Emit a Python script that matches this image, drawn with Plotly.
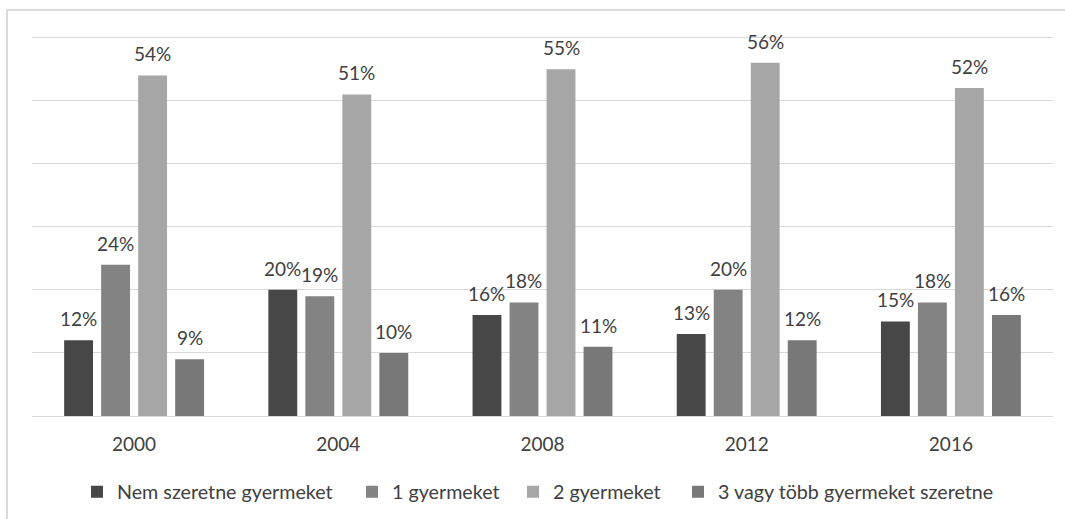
import plotly.graph_objects as go

years = ["2000", "2004", "2008", "2012", "2016"]
series_names = ["Nem szeretne gyermeket", "1 gyermeket", "2 gyermeket", "3 vagy több gyermeket szeretne"]
nem = [12, 20, 16, 13, 15]
egy = [24, 19, 18, 20, 18]
ketto = [54, 51, 55, 56, 52]
harom = [9, 10, 11, 12, 16]
colors = ["#474747", "#838383", "#a6a6a6", "#787878"]

W, H = 1065, 519
ML, MR, MT, MB = 32, 12, 31, 103
plot_w = W - ML - MR
plot_h = H - MT - MB
bargap = 0.275
n_series = 4
slot_px = plot_w / len(years) * (1 - bargap) / n_series

legend_ids = ["legend", "legend2", "legend3", "legend4"]
legend_left_px = [77, 352, 513, 678]
text_color = "#404040"
FONT = "Lato"

fig = go.Figure()
annotations = []
for i, (name, vals, col) in enumerate(zip(series_names, [nem, egy, ketto, harom], colors)):
    fig.add_trace(go.Bar(
        x=years, y=vals, name=name,
        marker=dict(color=col, line=dict(width=0)),
        hoverinfo="skip", legend=legend_ids[i],
    ))
    for j, (yr, v) in enumerate(zip(years, vals)):
        annotations.append(dict(
            x=j, y=v, xref="x", yref="y", text=f"{v}%", showarrow=False,
            xanchor="center", yanchor="bottom",
            xshift=(i - (n_series - 1) / 2) * slot_px, yshift=8,
            font=dict(size=19, color=text_color, family=FONT),
        ))

layout_legends = {}
for lid, lpx in zip(legend_ids, legend_left_px):
    layout_legends[lid] = dict(
        x=(lpx - ML) / plot_w, xanchor="left", y=-76 / plot_h, yanchor="middle",
        orientation="h", bgcolor="rgba(0,0,0,0)", borderwidth=0,
        font=dict(size=19.7, color=text_color, family=FONT), itemwidth=30,
    )

fig.update_layout(
    width=W, height=H,
    margin=dict(l=ML, r=MR, t=MT, b=MB, autoexpand=False),
    paper_bgcolor="white", plot_bgcolor="white",
    barmode="group", bargap=bargap, bargroupgap=0.22,
    font=dict(family=FONT, size=19, color=text_color),
    showlegend=True,
    xaxis=dict(type="category", showgrid=False, showline=True, linecolor="#d9d9d9", linewidth=1,
               ticks="outside", ticklen=11, tickcolor="rgba(0,0,0,0)",
               tickfont=dict(size=19, color=text_color, family=FONT)),
    yaxis=dict(range=[0, 61.05], dtick=10, showgrid=True, gridcolor="#d9d9d9", gridwidth=1,
               showticklabels=False, zeroline=False, ticks=""),
    annotations=annotations,
    shapes=[dict(type="rect", xref="paper", yref="paper",
                 x0=(7 - ML) / plot_w, x1=1.2, y0=-0.5, y1=1 + (MT - 10) / plot_h,
                 line=dict(color="#d0d0d0", width=1.5), fillcolor="rgba(0,0,0,0)", layer="below")],
    **layout_legends,
)

fig.write_html("out.html", config={"displayModeBar": False},
               post_script="document.body.style.margin='0';document.body.style.overflow='hidden';")
